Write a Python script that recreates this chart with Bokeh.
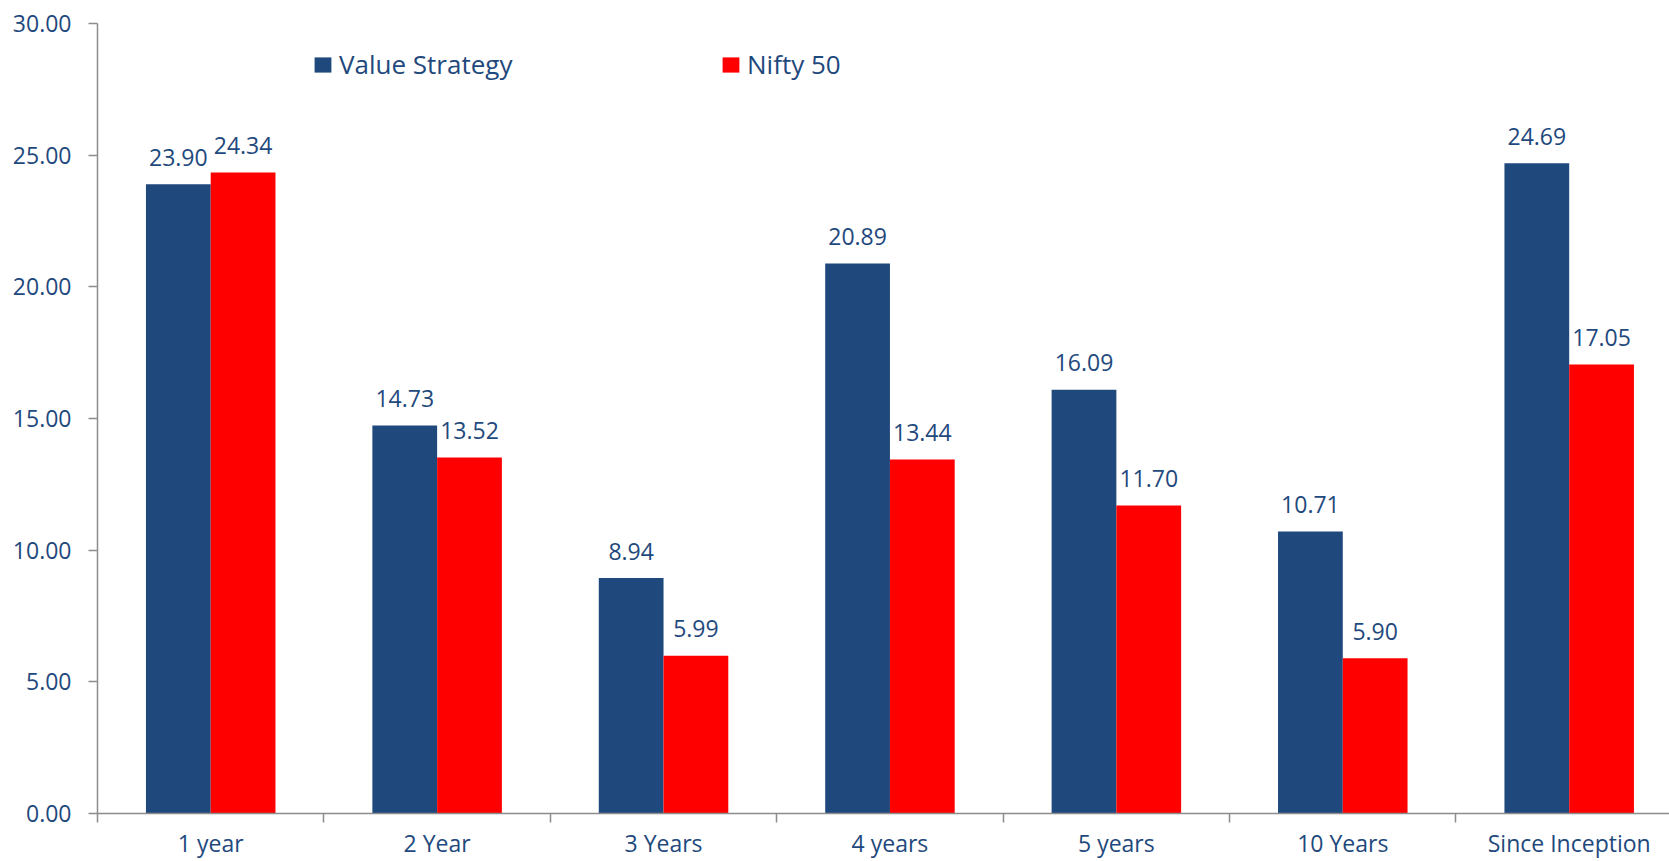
from bokeh.plotting import figure
from bokeh.models import (ColumnDataSource, Range1d, FixedTicker, NumeralTickFormatter,
                          Legend, LegendItem)
from bokeh.transform import dodge
from bokeh.core.properties import value
from bokeh.embed import file_html
from bokeh.resources import INLINE

categories = ["1 year", "2 Year", "3 Years", "4 years", "5 years", "10 Years", "Since Inception"]
value_strategy = [23.90, 14.73, 8.94, 20.89, 16.09, 10.71, 24.69]
nifty_50 = [24.34, 13.52, 5.99, 13.44, 11.70, 5.90, 17.05]
y_ticks = [0, 5, 10, 15, 20, 25, 30]

BLUE = "#1F497D"
RED = "#FF0000"
TEXT = "#1F497D"
AXIS = "#8C8C8C"
FONT = "Open Sans"

xpos = [i + 0.5 for i in range(len(categories))]
src = ColumnDataSource(dict(
    x=xpos,
    vs=value_strategy,
    nf=nifty_50,
    vs_lbl=[f"{v:.2f}" for v in value_strategy],
    nf_lbl=[f"{v:.2f}" for v in nifty_50],
))

p = figure(width=1669, height=861, output_backend="svg", toolbar_location=None,
           x_range=Range1d(0, 6.943), y_range=Range1d(0, 30),
           min_border_left=97, min_border_right=0, min_border_top=23, min_border_bottom=48)

bw = 0.286
off = 0.143
r1 = p.vbar(x=dodge("x", -off), top="vs", width=bw, source=src, color=BLUE, line_width=0)
r2 = p.vbar(x=dodge("x", off), top="nf", width=bw, source=src, color=RED, line_width=0)

for col, lbl, o in (("vs", "vs_lbl", -off), ("nf", "nf_lbl", off)):
    p.text(x=dodge("x", o), y=col, text=lbl, source=src, text_align="center",
           text_baseline="alphabetic", y_offset=-27, text_color=TEXT,
           text_font=value(FONT), text_font_size="23px")

p.xgrid.visible = False
p.ygrid.visible = False
p.outline_line_color = None

# y axis
ya = p.yaxis[0]
ya.ticker = FixedTicker(ticks=y_ticks)
ya.formatter = NumeralTickFormatter(format="0.00")
ya.axis_line_color = AXIS
ya.axis_line_width = 1.5
ya.major_tick_line_color = AXIS
ya.major_tick_line_width = 1.5
ya.major_tick_out = 9
ya.major_tick_in = 0
ya.minor_tick_line_color = None
ya.major_label_text_color = TEXT
ya.major_label_text_font = FONT
ya.major_label_text_font_size = "23px"
ya.major_label_standoff = 17

# x axis
xa = p.xaxis[0]
xa.ticker = FixedTicker(ticks=xpos, minor_ticks=list(range(len(categories) + 1)))
xa.major_label_overrides = {x: c for x, c in zip(xpos, categories)}
xa.axis_line_color = AXIS
xa.axis_line_width = 1.5
xa.major_tick_line_color = None
xa.major_tick_out = 0
xa.major_tick_in = 0
xa.minor_tick_line_color = AXIS
xa.minor_tick_line_width = 1.5
xa.minor_tick_out = 9
xa.minor_tick_in = 0
xa.major_label_text_color = TEXT
xa.major_label_text_font = FONT
xa.major_label_text_font_size = "23px"
xa.major_label_standoff = 4

legend = Legend(items=[LegendItem(label="Value Strategy", renderers=[r1]),
                       LegendItem(label="Nifty 50", renderers=[r2])],
                orientation="horizontal", location=(215, 731),
                glyph_width=21, glyph_height=19, label_standoff=6,
                label_width=361, spacing=20, padding=0, margin=0,
                border_line_color=None, background_fill_alpha=0,
                label_text_color=TEXT, label_text_font=FONT, label_text_font_size="26px")
p.add_layout(legend)

open("out.html", "w").write(file_html(p, INLINE))
